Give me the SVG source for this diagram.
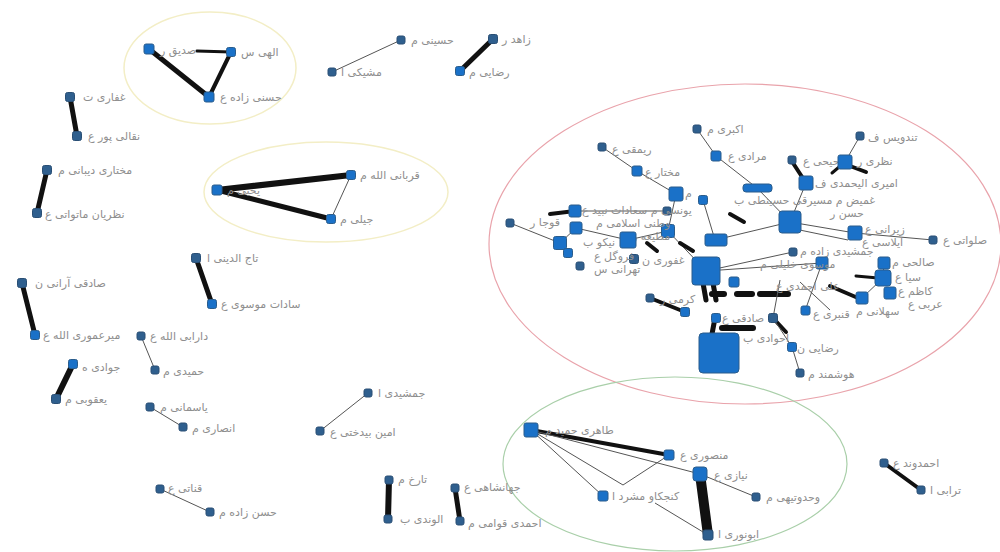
<svg xmlns="http://www.w3.org/2000/svg" width="1000" height="552" viewBox="0 0 1000 552">
<style>
.n{fill:#1a71c8;stroke:#2b5d8c;stroke-width:1}
.s{fill:#2f5f8e;stroke:#2a4f75;stroke-width:1}
.l{fill:#8e8e8e;font-family:"DejaVu Sans",sans-serif;font-size:11px}
.e{stroke:#555;stroke-width:1;fill:none}
.t{stroke:#111;stroke-linecap:round;fill:none}
.hy{fill:none;stroke:#f3eec6;stroke-width:1.5}
.hr{fill:none;stroke:#e9a3ab;stroke-width:1.2}
.hg{fill:none;stroke:#a9cfa9;stroke-width:1.2}
</style>
<rect width="1000" height="552" fill="#fff"/>
<g id="hulls">
<ellipse class="hy" cx="210" cy="68" rx="86" ry="56"/>
<ellipse class="hy" cx="326" cy="192" rx="122" ry="50"/>
<ellipse class="hr" cx="745" cy="244" rx="256" ry="160"/>
<ellipse class="hg" cx="675" cy="464" rx="172" ry="87"/>
</g>
<g id="connectors">
<line class="t" stroke-width="5" x1="149" y1="49" x2="209" y2="97"/>
<line class="t" stroke-width="4" x1="231" y1="52" x2="209" y2="97"/>
<line class="t" stroke-width="3" x1="197" y1="51" x2="231" y2="52"/>
<line class="t" stroke-width="5" x1="70" y1="97" x2="77" y2="136"/>
<line class="t" stroke-width="5" x1="47" y1="170" x2="37" y2="213"/>
<line class="t" stroke-width="6" x1="217" y1="190" x2="351" y2="175"/>
<line class="t" stroke-width="5" x1="217" y1="190" x2="331" y2="219"/>
<line class="e" x1="351" y1="175" x2="331" y2="219"/>
<line class="t" stroke-width="5" x1="196" y1="258" x2="212" y2="304"/>
<line class="t" stroke-width="5" x1="22" y1="283" x2="35" y2="335"/>
<line class="e" x1="141" y1="336" x2="155" y2="370"/>
<line class="t" stroke-width="6" x1="73" y1="364" x2="56" y2="399"/>
<line class="e" x1="150" y1="407" x2="183" y2="427"/>
<line class="e" x1="160" y1="489" x2="210" y2="512"/>
<line class="e" x1="401" y1="40" x2="332" y2="72"/>
<line class="t" stroke-width="5" x1="493" y1="39" x2="460" y2="71"/>
<line class="e" x1="368" y1="393" x2="320" y2="431"/>
<line class="t" stroke-width="6" x1="389" y1="480" x2="388" y2="519"/>
<line class="t" stroke-width="5" x1="455" y1="488" x2="460" y2="521"/>
<line class="t" stroke-width="4" x1="531" y1="430" x2="669" y2="455"/>
<line class="e" x1="531" y1="430" x2="700" y2="474"/>
<line class="e" x1="531" y1="430" x2="603" y2="496"/>
<line class="e" x1="531" y1="430" x2="623" y2="485"/>
<line class="e" x1="669" y1="455" x2="623" y2="485"/>
<line class="e" x1="700" y1="474" x2="756" y2="497"/>
<line class="t" stroke-width="10" stroke-linecap="butt" x1="700" y1="474" x2="708" y2="535"/>
<line class="e" x1="655" y1="503" x2="708" y2="535"/>
<line class="t" stroke-width="4" x1="884" y1="463" x2="921" y2="490"/>
<line class="e" x1="602" y1="147" x2="637" y2="171"/>
<line class="e" x1="637" y1="171" x2="676" y2="194"/>
<line class="e" x1="697" y1="129" x2="716" y2="156"/>
<line class="e" x1="716" y1="156" x2="757" y2="188"/>
<line class="t" stroke-width="4" x1="793" y1="163" x2="806" y2="183"/>
<line class="e" x1="845" y1="162" x2="860" y2="136"/>
<line class="t" stroke-width="4" x1="850" y1="166" x2="866" y2="172"/>
<line class="t" stroke-width="3" x1="845" y1="162" x2="832" y2="173"/>
<line class="e" x1="806" y1="183" x2="790" y2="222"/>
<line class="t" stroke-width="4" x1="730" y1="214" x2="744" y2="222"/>
<line class="e" x1="757" y1="188" x2="790" y2="222"/>
<line class="e" x1="790" y1="222" x2="855" y2="233"/>
<line class="e" x1="790" y1="228" x2="848" y2="240"/>
<line class="e" x1="855" y1="233" x2="933" y2="240"/>
<line class="t" stroke-width="4" x1="550" y1="214" x2="575" y2="211"/>
<line class="e" x1="510" y1="223" x2="560" y2="243"/>
<line class="e" x1="575" y1="211" x2="667" y2="211"/>
<line class="e" x1="576" y1="228" x2="628" y2="240"/>
<line class="e" x1="560" y1="243" x2="576" y2="228"/>
<line class="e" x1="628" y1="240" x2="668" y2="231"/>
<line class="e" x1="668" y1="231" x2="706" y2="271"/>
<line class="t" stroke-width="4" x1="647" y1="243" x2="657" y2="251"/>
<line class="t" stroke-width="4" x1="680" y1="243" x2="693" y2="251"/>
<line class="e" x1="676" y1="194" x2="668" y2="231"/>
<line class="e" x1="703" y1="200" x2="715" y2="240"/>
<line class="e" x1="715" y1="240" x2="790" y2="222"/>
<line class="e" x1="706" y1="271" x2="822" y2="263"/>
<line class="e" x1="706" y1="271" x2="793" y2="252"/>
<line class="t" stroke-width="5" x1="703" y1="283" x2="706" y2="300"/>
<line class="t" stroke-width="5" x1="713" y1="283" x2="716" y2="300"/>
<line class="t" stroke-width="6" stroke-linecap="butt" x1="712" y1="294" x2="724" y2="294"/>
<line class="t" stroke-width="6" stroke-linecap="butt" x1="737" y1="294" x2="752" y2="294"/>
<line class="t" stroke-width="6" stroke-linecap="butt" x1="760" y1="294" x2="788" y2="294"/>
<line class="t" stroke-width="5" x1="715" y1="318" x2="712" y2="334"/>
<line class="t" stroke-width="6" stroke-linecap="butt" x1="722" y1="328" x2="753" y2="328"/>
<line class="t" stroke-width="4" x1="650" y1="298" x2="685" y2="312"/>
<line class="t" stroke-width="4" x1="773" y1="318" x2="786" y2="332"/>
<line class="e" x1="773" y1="318" x2="792" y2="347"/>
<line class="e" x1="792" y1="347" x2="800" y2="373"/>
<line class="e" x1="822" y1="263" x2="805" y2="311"/>
<line class="t" stroke-width="4" x1="830" y1="286" x2="858" y2="298"/>
<line class="e" x1="883" y1="278" x2="862" y2="298"/>
<line class="e" x1="884" y1="263" x2="883" y2="278"/>
<line class="t" stroke-width="3" x1="856" y1="276" x2="878" y2="278"/>
<line class="e" x1="780" y1="280" x2="773" y2="318"/>
<line class="e" x1="800" y1="282" x2="830" y2="310"/>
</g>
<g id="n1"><rect class="n" x="144" y="44" width="10" height="10" rx="2"/><text class="l" x="160" y="54">صدیق ر</text></g>
<g id="n2"><rect class="n" x="226.5" y="47.5" width="9" height="9" rx="2"/><text class="l" x="241" y="56">الهی س</text></g>
<g id="n3"><rect class="n" x="204" y="92" width="10" height="10" rx="2"/><text class="l" x="220" y="101">حسنی زاده ع</text></g>
<g id="n4"><rect class="s" x="65.5" y="92.5" width="9" height="9" rx="2"/><text class="l" x="83" y="101">غفاری ت</text></g>
<g id="n5"><rect class="s" x="72.5" y="131.5" width="9" height="9" rx="2"/><text class="l" x="88" y="140">نقالی پور ع</text></g>
<g id="n6"><rect class="s" x="42.5" y="165.5" width="9" height="9" rx="2"/><text class="l" x="58" y="174">مختاری دیبانی م</text></g>
<g id="n7"><rect class="s" x="32.5" y="208.5" width="9" height="9" rx="2"/><text class="l" x="45" y="218">نظریان ماتواتی ع</text></g>
<g id="n8"><rect class="n" x="212" y="185" width="10" height="10" rx="2"/><text class="l" x="227" y="194">یحیی م</text></g>
<g id="n9"><rect class="n" x="346.5" y="170.5" width="9" height="9" rx="2"/><text class="l" x="360" y="179">قربانی الله م</text></g>
<g id="n10"><rect class="n" x="326.5" y="214.5" width="9" height="9" rx="2"/><text class="l" x="340" y="223">جیلی م</text></g>
<g id="n11"><rect class="s" x="191.5" y="253.5" width="9" height="9" rx="2"/><text class="l" x="207" y="262">تاج الدینی ا</text></g>
<g id="n12"><rect class="n" x="207.5" y="299.5" width="9" height="9" rx="2"/><text class="l" x="221" y="308">سادات موسوی ع</text></g>
<g id="n13"><rect class="s" x="17.5" y="278.5" width="9" height="9" rx="2"/><text class="l" x="35" y="287">صادقی آرانی ن</text></g>
<g id="n14"><rect class="n" x="30.5" y="330.5" width="9" height="9" rx="2"/><text class="l" x="43" y="339">میرعموری الله ع</text></g>
<g id="n15"><rect class="s" x="137" y="332" width="8" height="8" rx="2"/><text class="l" x="150" y="340">دارابی الله ع</text></g>
<g id="n16"><rect class="s" x="151" y="366" width="8" height="8" rx="2"/><text class="l" x="163" y="375">حمیدی م</text></g>
<g id="n17"><rect class="n" x="68.5" y="359.5" width="9" height="9" rx="2"/><text class="l" x="82" y="371">جوادی ه</text></g>
<g id="n18"><rect class="s" x="51.5" y="394.5" width="9" height="9" rx="2"/><text class="l" x="65" y="403">یعقوبی م</text></g>
<g id="n19"><rect class="s" x="146" y="403" width="8" height="8" rx="2"/><text class="l" x="160" y="411">یاسمانی م</text></g>
<g id="n20"><rect class="s" x="179" y="423" width="8" height="8" rx="2"/><text class="l" x="192" y="432">انصاری م</text></g>
<g id="n21"><rect class="s" x="156" y="485" width="8" height="8" rx="2"/><text class="l" x="168" y="492">قناتی ع</text></g>
<g id="n22"><rect class="s" x="206" y="508" width="8" height="8" rx="2"/><text class="l" x="219" y="516">حسن زاده م</text></g>
<g id="n23"><rect class="s" x="397" y="36" width="8" height="8" rx="2"/><text class="l" x="411" y="44">حسینی م</text></g>
<g id="n24"><rect class="s" x="328" y="68" width="8" height="8" rx="2"/><text class="l" x="341" y="76">مشیکی ا</text></g>
<g id="n25"><rect class="s" x="488.5" y="34.5" width="9" height="9" rx="2"/><text class="l" x="502" y="43">زاهد ر</text></g>
<g id="n26"><rect class="n" x="455.5" y="66.5" width="9" height="9" rx="2"/><text class="l" x="469" y="76">رضایی م</text></g>
<g id="n27"><rect class="s" x="364" y="389" width="8" height="8" rx="2"/><text class="l" x="378" y="397">جمشیدی ا</text></g>
<g id="n28"><rect class="s" x="316" y="427" width="8" height="8" rx="2"/><text class="l" x="330" y="436">امین بیدختی ع</text></g>
<g id="n29"><rect class="s" x="385" y="476" width="8" height="8" rx="2"/><text class="l" x="398" y="483">تارخ م</text></g>
<g id="n30"><rect class="s" x="384" y="515" width="8" height="8" rx="2"/><text class="l" x="400" y="523">الوندی ب</text></g>
<g id="n31"><rect class="s" x="451" y="484" width="8" height="8" rx="2"/><text class="l" x="464" y="491">جهانشاهی ع</text></g>
<g id="n32"><rect class="s" x="456" y="517" width="8" height="8" rx="2"/><text class="l" x="468" y="527">احمدی قوامی م</text></g>
<g id="n33"><rect class="n" x="524" y="423" width="14" height="14" rx="2"/><text class="l" x="545" y="434">طاهری حمید م</text></g>
<g id="n34"><rect class="n" x="664" y="450" width="10" height="10" rx="2"/><text class="l" x="680" y="459">منصوری ع</text></g>
<g id="n35"><rect class="n" x="693" y="467" width="14" height="14" rx="3"/><text class="l" x="714" y="479">نیازی ع</text></g>
<g id="n36"><rect class="n" x="598" y="491" width="10" height="10" rx="2"/><text class="l" x="612" y="500">کنجکاو مشرد ا</text></g>
<g id="n37"><rect class="s" x="752" y="493" width="8" height="8" rx="2"/><text class="l" x="766" y="501">وحدوتیهی م</text></g>
<g id="n38"><rect class="s" x="703" y="530" width="10" height="10" rx="2"/><text class="l" x="718" y="538">ابونوری ا</text></g>
<g id="n39"><rect class="s" x="880" y="459" width="8" height="8" rx="2"/><text class="l" x="893" y="467">احمدوند ع</text></g>
<g id="n40"><rect class="s" x="917" y="486" width="8" height="8" rx="2"/><text class="l" x="930" y="494">ترابی ا</text></g>
<g id="m1"><rect class="s" x="693" y="125" width="8" height="8" rx="2"/><text class="l" x="707" y="133">اکبری م</text></g>
<g id="m2"><rect class="s" x="598" y="143" width="8" height="8" rx="2"/><text class="l" x="612" y="153">ریمقی ع</text></g>
<g id="m3"><rect class="n" x="632" y="166" width="10" height="10" rx="2"/><text class="l" x="645" y="176">مختار ع</text></g>
<g id="m4"><rect class="n" x="669" y="187" width="14" height="14" rx="2"/><text class="l" x="685" y="197">م</text></g>
<g id="m5"><rect class="n" x="711" y="151" width="10" height="10" rx="2"/><text class="l" x="728" y="160">مرادی ع</text></g>
<g id="m6"><rect class="s" x="788" y="156" width="8" height="8" rx="2"/><text class="l" x="803" y="165">حیحی ع</text></g>
<g id="m7"><rect class="n" x="838" y="155" width="14" height="14" rx="2"/><text class="l" x="857" y="165">نظری ر</text></g>
<g id="m8"><rect class="s" x="856" y="132" width="8" height="8" rx="2"/><text class="l" x="868" y="141">تندویس ف</text></g>
<g id="m9"><rect class="n" x="799" y="176" width="14" height="14" rx="2"/><text class="l" x="815" y="187">امیری الیحمدی ف</text></g>
<g id="m10"><rect class="n" x="743" y="184" width="29" height="8" rx="3"/></g>
<g id="m11"><rect class="n" x="779" y="211" width="22" height="22" rx="3"/><text class="l" x="734" y="204">غمیض م مسیرقی حسینطی ب</text><text class="l" x="830" y="217">حسن ر</text></g>
<g id="m12"><rect class="n" x="848" y="226" width="14" height="14" rx="2"/><text class="l" x="865" y="233">زیرانی ع</text><text class="l" x="862" y="246">ایلاسی ع</text></g>
<g id="m13"><rect class="s" x="929" y="236" width="8" height="8" rx="2"/><text class="l" x="943" y="244">صلواتی ع</text></g>
<g id="m14"><rect class="s" x="789" y="248" width="8" height="8" rx="2"/><text class="l" x="800" y="255">جمشیدی زاده م</text></g>
<g id="m15"><rect class="n" x="816" y="257" width="12" height="12" rx="2"/><text class="l" x="760" y="268">موسوی خلیلی م</text></g>
<g id="m16"><rect class="n" x="878" y="257" width="12" height="12" rx="2"/><text class="l" x="892" y="266">صالحی م</text></g>
<g id="m17"><rect class="n" x="875" y="270" width="16" height="16" rx="3"/><text class="l" x="895" y="281">سیا ع</text></g>
<g id="m18"><rect class="n" x="884" y="287" width="12" height="12" rx="2"/><text class="l" x="898" y="295">کاظم ع</text><text class="l" x="908" y="308">عربی ع</text></g>
<g id="m19"><rect class="n" x="856" y="292" width="12" height="12" rx="2"/><text class="l" x="856" y="315">سهلانی م</text></g>
<g id="m20"><rect class="n" x="729" y="277" width="10" height="10" rx="2"/><text class="l" x="776" y="290">علی احمدی ع</text></g>
<g id="m21"><rect class="n" x="801" y="306" width="9" height="9" rx="2"/><text class="l" x="813" y="318">قنبری ع</text></g>
<g id="m22"><rect class="s" x="768.5" y="313.5" width="9" height="9" rx="2"/><text class="l" x="722" y="322">صادقی ع</text></g>
<g id="m23"><rect class="n" x="787.5" y="342.5" width="9" height="9" rx="2"/><text class="l" x="797" y="352">رضایی ن</text></g>
<g id="m24"><rect class="s" x="796" y="369" width="8" height="8" rx="2"/><text class="l" x="808" y="378">هوشمند م</text></g>
<g id="m25"><rect class="n" x="699" y="333" width="40" height="40" rx="4"/><text class="l" x="743" y="342">احوادی ب</text></g>
<g id="m26"><rect class="n" x="711.5" y="313.5" width="9" height="9" rx="2"/></g>
<g id="m27"><rect class="n" x="680.5" y="307.5" width="9" height="9" rx="2"/><text class="l" x="660" y="303">کرمی ر</text></g>
<g id="m28"><rect class="s" x="646" y="294" width="8" height="8" rx="2"/></g>
<g id="m29"><rect class="n" x="692" y="257" width="28" height="28" rx="3"/></g>
<g id="m30"><rect class="n" x="705" y="234" width="22" height="12" rx="2"/></g>
<g id="m31"><rect class="n" x="698.5" y="195.5" width="9" height="9" rx="2"/></g>
<g id="m32"><rect class="s" x="663" y="207" width="8" height="8" rx="2"/></g>
<g id="m33"><rect class="n" x="661.5" y="224.5" width="13" height="13" rx="2"/><text class="l" x="632" y="240">مطیعه ر</text></g>
<g id="m34"><rect class="n" x="620" y="232" width="16" height="16" rx="2"/></g>
<g id="m35"><rect class="s" x="629.5" y="254.5" width="9" height="9" rx="2"/><text class="l" x="594" y="260">فروگل ع</text><text class="l" x="642" y="264">غفوری ن</text><text class="l" x="594" y="273">تهرانی س</text></g>
<g id="m36"><rect class="n" x="569" y="205" width="12" height="12" rx="2"/><text class="l" x="582" y="214">یونسی م سعادات نبید ع</text></g>
<g id="m37"><rect class="n" x="570" y="222" width="12" height="12" rx="2"/><text class="l" x="596" y="227">وطنی اسلامی م</text></g>
<g id="m38"><rect class="s" x="506" y="219" width="8" height="8" rx="2"/><text class="l" x="530" y="226">قوجا ر</text></g>
<g id="m39"><rect class="n" x="553.5" y="236.5" width="13" height="13" rx="2"/><text class="l" x="583" y="246">نیکو ب</text></g>
<g id="m40"><rect class="n" x="563.5" y="248.5" width="9" height="9" rx="2"/></g>
<g id="m41"><rect class="s" x="576" y="262" width="8" height="8" rx="2"/></g>
</svg>
